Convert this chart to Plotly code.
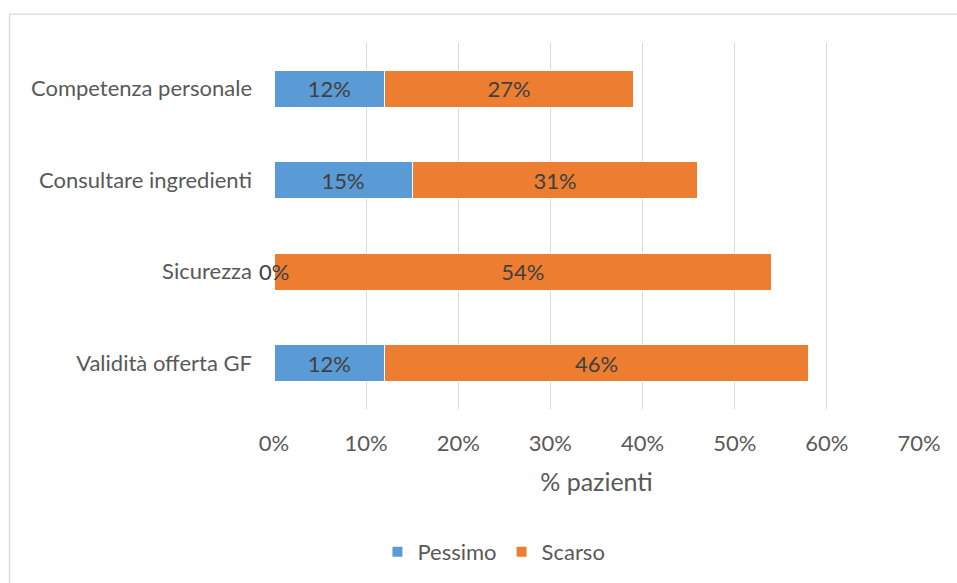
import plotly.graph_objects as go

# Survey results: share of patients rating each aspect as "Pessimo" / "Scarso"
categories = ["Competenza personale", "Consultare ingredienti", "Sicurezza", "Validità offerta GF"]
pessimo = [12, 15, 0, 12]
scarso = [27, 31, 54, 46]
x_ticks = [0, 10, 20, 30, 40, 50, 60, 70]
x_tick_labels = [f"{v}%" for v in x_ticks]

FONT = "Lato"
TEXT_COLOR = "#595959"
LABEL_COLOR = "#404040"
BLUE = "#5B9BD5"
ORANGE = "#ED7D31"
GRID = "#D9D9D9"
SIZE = 22

fig = go.Figure()

def add_series(name, values, color):
    # zero-valued segments get their label placed as an annotation at the bar origin
    texts = [f"{v}%" if v > 0 else "" for v in values]
    fig.add_trace(go.Bar(
        y=categories, x=values, name=name, orientation="h",
        marker=dict(color=color, line=dict(color="white", width=1)),
        text=texts, textposition="inside", insidetextanchor="middle",
        textfont=dict(family=FONT, size=SIZE, color=LABEL_COLOR),
        constraintext="none", hoverinfo="skip",
    ))
    for cat, v in zip(categories, values):
        if v == 0:
            fig.add_annotation(x=v, y=cat, text=f"{v}%", showarrow=False,
                               xanchor="center", yanchor="middle",
                               font=dict(family=FONT, size=SIZE, color=LABEL_COLOR))

add_series("Pessimo", pessimo, BLUE)
add_series("Scarso", scarso, ORANGE)

fig.update_layout(
    barmode="stack",
    bargap=0.6,
    width=957, height=583,
    margin=dict(l=274, r=38, t=43, b=173),
    paper_bgcolor="white", plot_bgcolor="white",
    font=dict(family=FONT, size=SIZE, color=TEXT_COLOR),
    showlegend=True,
    legend=dict(orientation="h", x=0.341, y=-0.387, xanchor="center", yanchor="middle",
                font=dict(family=FONT, size=SIZE, color=TEXT_COLOR),
                traceorder="normal", itemsizing="constant", itemwidth=30),
    xaxis=dict(range=[0, 70], tickvals=x_ticks, ticktext=x_tick_labels,
               showgrid=True, gridcolor=GRID, gridwidth=1.3, zeroline=False,
               showline=False, ticks="", ticklabelstandoff=19,
               title=dict(text="% pazienti", font=dict(family=FONT, size=25, color=TEXT_COLOR),
                          standoff=18),
               fixedrange=True),
    yaxis=dict(categoryorder="array", categoryarray=categories, autorange="reversed",
               showgrid=False, zeroline=False, showline=False, ticks="",
               ticklabelstandoff=21, fixedrange=True),
    shapes=[dict(type="rect", xref="paper", yref="paper",
                 x0=(9.5 - 274) / 645, x1=(980 - 274) / 645,
                 y0=(410 - 600) / 367, y1=(410 - 14) / 367,
                 line=dict(color=GRID, width=1.3), fillcolor="rgba(0,0,0,0)", layer="below")],
)

fig.write_html("out.html", config={"displayModeBar": False})
